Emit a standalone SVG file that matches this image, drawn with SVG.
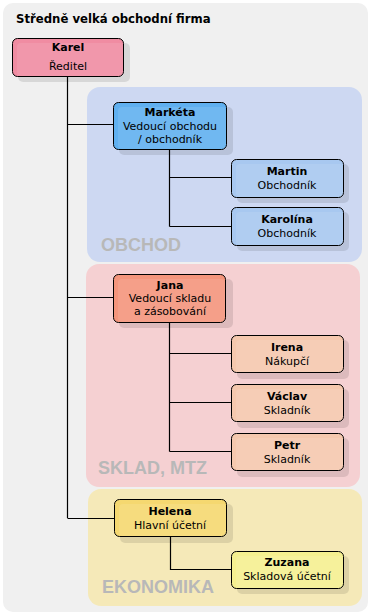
<svg xmlns="http://www.w3.org/2000/svg" width="370" height="615" viewBox="0 0 370 615">
<style>
.t{font-family:"DejaVu Sans",sans-serif;font-size:11px;fill:#000;text-anchor:middle}
.b{font-weight:bold}
.g{font-family:"Liberation Sans",Arial,sans-serif;font-weight:bold;font-size:18px;fill:#b8b8b8}
.n{stroke:#000;stroke-width:1}
.sh{fill:#000;fill-opacity:0.1}
.hl{fill:#fff;fill-opacity:0.1}
.c{stroke:#000;stroke-width:1.2;fill:none}
</style>
<rect x="0" y="0" width="370" height="615" fill="#fff"/>
<rect x="3" y="3" width="365" height="609" rx="10" fill="#f0f0f0"/>
<text x="16" y="23" font-family="DejaVu Sans,sans-serif" font-weight="bold" font-size="11.7px">Středně velká obchodní firma</text>
<g id="group-obchod"><rect x="87" y="87" width="275" height="175" rx="13" fill="#cdd8f2"/><text class="g" x="101" y="251">OBCHOD</text></g>
<g id="group-sklad"><rect x="86" y="264" width="274" height="223" rx="13" fill="#f5d0d2"/><text class="g" x="98" y="474">SKLAD, MTZ</text></g>
<g id="group-ekonomika"><rect x="88" y="489" width="274" height="117" rx="13" fill="#f5e9b8"/><text class="g" x="102" y="593">EKONOMIKA</text></g>
<g id="connectors">
<path class="c" d="M67.5 76V518M67.5 124.5H113M67.5 297.5H113M67.5 518.5H114"/>
<path class="c" d="M169.5 149V226.5M169.5 177.5H231M169.5 226.5H231"/>
<path class="c" d="M169.5 322V451.5M169.5 353.5H231M169.5 402.5H231M169.5 451.5H231"/>
<path class="c" d="M170.5 537V569.5H231"/>
</g>
<g id="karel"><rect class="sh" x="18" y="43" width="112" height="39" rx="5"/><rect class="n" x="12.5" y="38.5" width="111" height="38" rx="5" fill="#f08ca2"/><rect class="hl" x="17" y="43" width="106" height="33" rx="4"/><text class="t b" x="68" y="51">Karel</text><text class="t" x="68" y="70">Ředitel</text></g>
<g id="marketa"><rect class="sh" x="119" y="107" width="114" height="48" rx="5"/><rect class="n" x="113.5" y="102.5" width="113" height="47" rx="5" fill="#60b0f0"/><rect class="hl" x="118" y="107" width="108" height="42" rx="4"/><text class="t b" x="170" y="116">Markéta</text><text class="t" x="170" y="130">Vedoucí obchodu</text><text class="t" x="170" y="143">/ obchodník</text></g>
<g id="martin"><rect class="sh" x="237" y="164" width="112" height="39" rx="5"/><rect class="n" x="231.5" y="159.5" width="112" height="38" rx="5" fill="#a8c8f0"/><rect class="hl" x="236" y="164" width="107" height="33" rx="4"/><text class="t b" x="287" y="175">Martin</text><text class="t" x="287" y="189">Obchodník</text></g>
<g id="karolina"><rect class="sh" x="237" y="212" width="112" height="39" rx="5"/><rect class="n" x="231.5" y="207.5" width="112" height="38" rx="5" fill="#a8c8f0"/><rect class="hl" x="236" y="212" width="107" height="33" rx="4"/><text class="t b" x="287" y="223">Karolína</text><text class="t" x="287" y="237">Obchodník</text></g>
<g id="jana"><rect class="sh" x="119" y="279" width="114" height="49" rx="5"/><rect class="n" x="113.5" y="274.5" width="112" height="48" rx="5" fill="#f4957c"/><rect class="hl" x="118" y="279" width="107" height="43" rx="4"/><text class="t b" x="170" y="289">Jana</text><text class="t" x="170" y="302">Vedoucí skladu</text><text class="t" x="170" y="315">a zásobování</text></g>
<g id="irena"><rect class="sh" x="237" y="340" width="112" height="39" rx="5"/><rect class="n" x="231.5" y="335.5" width="112" height="37" rx="5" fill="#f5c8ae"/><rect class="hl" x="236" y="340" width="107" height="32" rx="4"/><text class="t b" x="287" y="351">Irena</text><text class="t" x="287" y="365">Nákupčí</text></g>
<g id="vaclav"><rect class="sh" x="237" y="389" width="112" height="39" rx="5"/><rect class="n" x="231.5" y="384.5" width="112" height="37" rx="5" fill="#f5c8ae"/><rect class="hl" x="236" y="389" width="107" height="32" rx="4"/><text class="t b" x="287" y="400">Václav</text><text class="t" x="287" y="414">Skladník</text></g>
<g id="petr"><rect class="sh" x="237" y="438" width="112" height="39" rx="5"/><rect class="n" x="231.5" y="433.5" width="112" height="37" rx="5" fill="#f5c8ae"/><rect class="hl" x="236" y="438" width="107" height="32" rx="4"/><text class="t b" x="287" y="449">Petr</text><text class="t" x="287" y="463">Skladník</text></g>
<g id="helena"><rect class="sh" x="120" y="504" width="113" height="39" rx="5"/><rect class="n" x="114.5" y="499.5" width="112" height="37" rx="5" fill="#f5d870"/><rect class="hl" x="119" y="504" width="107" height="32" rx="4"/><text class="t b" x="170" y="515">Helena</text><text class="t" x="170" y="529">Hlavní účetní</text></g>
<g id="zuzana"><rect class="sh" x="237" y="556" width="112" height="38" rx="5"/><rect class="n" x="231.5" y="551.5" width="112" height="37" rx="5" fill="#f5f090"/><rect class="hl" x="236" y="556" width="107" height="32" rx="4"/><text class="t b" x="287" y="566">Zuzana</text><text class="t" x="287" y="580">Skladová účetní</text></g>
</svg>
